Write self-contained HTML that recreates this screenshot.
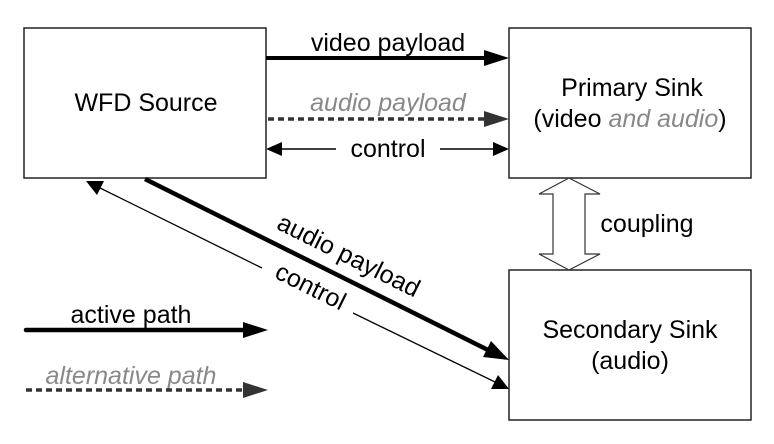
<!DOCTYPE html>
<html><head><meta charset="utf-8"><style>
html,body{margin:0;padding:0;background:#fff;}
svg{display:block;font-family:"Liberation Sans",Arial,sans-serif;}
</style></head><body>
<svg width="774" height="444" viewBox="0 0 774 444" xmlns="http://www.w3.org/2000/svg">
<rect width="774" height="444" fill="#fff"/>
<g fill="#fff" stroke="#222" stroke-width="1.5">
<rect x="24" y="28" width="242" height="150"/>
<rect x="509" y="28" width="242" height="150"/>
<rect x="509" y="270" width="242" height="150"/>
</g>
<g font-size="25" text-anchor="middle" fill="#000">
<text x="146" y="111">WFD Source</text>
<text x="632" y="96">Primary Sink</text>
<text x="630" y="127">(video <tspan fill="#888" font-style="italic">and audio</tspan>)</text>
<text x="630" y="338">Secondary Sink</text>
<text x="630" y="369">(audio)</text>
<text x="388" y="51">video payload</text>
<text x="388" y="111" fill="#888" font-style="italic">audio payload</text>
<text x="388" y="157">control</text>
<text x="647" y="232">coupling</text>
<text x="131" y="323">active path</text>
<text x="131" y="384" fill="#888" font-style="italic">alternative path</text>
<text transform="translate(345,263) rotate(26.5)">audio payload</text>
<text transform="translate(307,294) rotate(26.5)">control</text>
</g>
<line x1="266" y1="58" x2="486" y2="58" stroke="#000" stroke-width="4"/>
<polygon points="484,50 509,58 484,66" fill="#000"/>
<line x1="268" y1="119" x2="484" y2="119" stroke="#333" stroke-width="3.5" stroke-dasharray="6,4"/>
<polygon points="484,111 509,119 484,127" fill="#333"/>
<line x1="280" y1="149" x2="336" y2="149" stroke="#000" stroke-width="1.5"/>
<line x1="440" y1="149" x2="496" y2="149" stroke="#000" stroke-width="1.5"/>
<polygon points="266,149 282,142 282,156" fill="#000"/>
<polygon points="509,149 493,142 493,156" fill="#000"/>
<polygon points="569,178 600,194 585,194 585,254 600,254 569,270 539,254 553,254 553,194 539,194" fill="#fff" stroke="#333" stroke-width="1.2"/>
<line x1="145" y1="179" x2="490" y2="351" stroke="#000" stroke-width="4.5"/>
<polygon points="509,360 483,357 491,341" fill="#000"/>
<line x1="96" y1="186" x2="262" y2="268" stroke="#000" stroke-width="1.3"/>
<line x1="353" y1="313" x2="495" y2="382" stroke="#000" stroke-width="1.3"/>
<polygon points="86,181 104,181 97,195" fill="#000"/>
<polygon points="509,389 491,389 498,375" fill="#000"/>
<line x1="26" y1="330" x2="245" y2="330" stroke="#000" stroke-width="4.5" stroke-linecap="round"/>
<polygon points="243,322 268,330 243,338" fill="#000"/>
<line x1="26" y1="390" x2="243" y2="390" stroke="#333" stroke-width="3.5" stroke-dasharray="6,4"/>
<polygon points="243,382 268,390 243,398" fill="#333"/>
</svg>
</body></html>
